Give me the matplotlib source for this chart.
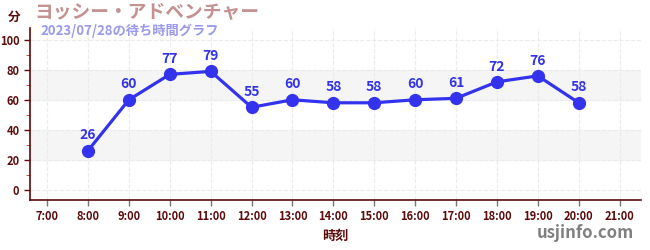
import matplotlib
matplotlib.use("Agg")
import matplotlib.pyplot as plt

plt.rcParams['font.family'] = ['Noto Sans CJK JP', 'DejaVu Sans']

hours = [8, 9, 10, 11, 12, 13, 14, 15, 16, 17, 18, 19, 20]
waits = [26, 60, 77, 79, 55, 60, 58, 58, 60, 61, 72, 76, 58]
tick_hours = list(range(7, 22))
tick_labels = ["%d:00" % h for h in tick_hours]

dark = '#5c0a0a'
blue = '#3333ee'

fig = plt.figure(figsize=(6.5, 2.5), dpi=100)
ax = fig.add_axes([0.046, 0.2, 0.94, 0.688])

ax.set_xlim(6.58, 21.52)
ax.set_ylim(-7, 108)

# background bands
for lo, hi in [(20, 40), (60, 80)]:
    ax.axhspan(lo, hi, color='#f5f5f5', zorder=0)

ax.grid(True, which='major', color='#ebebeb', linestyle='--', linewidth=0.8)
ax.set_axisbelow(True)

ax.plot(hours, waits, color=blue, linewidth=2.3, marker='o', markersize=8.5, zorder=3)
for h, w in zip(hours, waits):
    ax.annotate(str(w), (h, w), xytext=(0, 6), textcoords='offset points',
                ha='center', va='bottom', color=blue, fontsize=10, fontweight='bold')

ax.set_xticks(tick_hours)
ax.set_xticklabels(tick_labels)
ax.set_yticks([0, 20, 40, 60, 80, 100])
ax.set_yticks([10, 30, 50, 70, 90], minor=True)
ax.tick_params(axis='both', colors=dark, labelsize=8, length=4, width=1)
ax.tick_params(axis='x', color='#777777')
ax.tick_params(axis='y', which='minor', color='#dd2222', length=3)
for lab in ax.get_xticklabels() + ax.get_yticklabels():
    lab.set_fontweight('bold')
    lab.set_color(dark)

for s in ['top', 'right']:
    ax.spines[s].set_visible(False)
for s in ['left', 'bottom']:
    ax.spines[s].set_color(dark)
    ax.spines[s].set_linewidth(1.2)

ax.set_xlabel('時刻', color=dark, fontsize=9.5, fontweight='bold', labelpad=4)

fig.text(0.022, 0.93, '分', color=dark, fontsize=9, fontweight='bold', ha='center', va='center')
fig.text(0.053, 0.95, 'ヨッシー・アドベンチャー', color='#c49090', fontsize=13.5, fontweight='bold',
         va='center')
fig.text(0.062, 0.877, '2023/07/28の待ち時間グラフ', color='#9999ee', fontsize=9.5,
         fontweight='bold', va='center')
fig.text(0.975, 0.07, 'usjinfo.com', color='#808080', fontsize=12, fontweight='bold',
         ha='right', va='center')

fig.savefig('out.png', dpi=100)
